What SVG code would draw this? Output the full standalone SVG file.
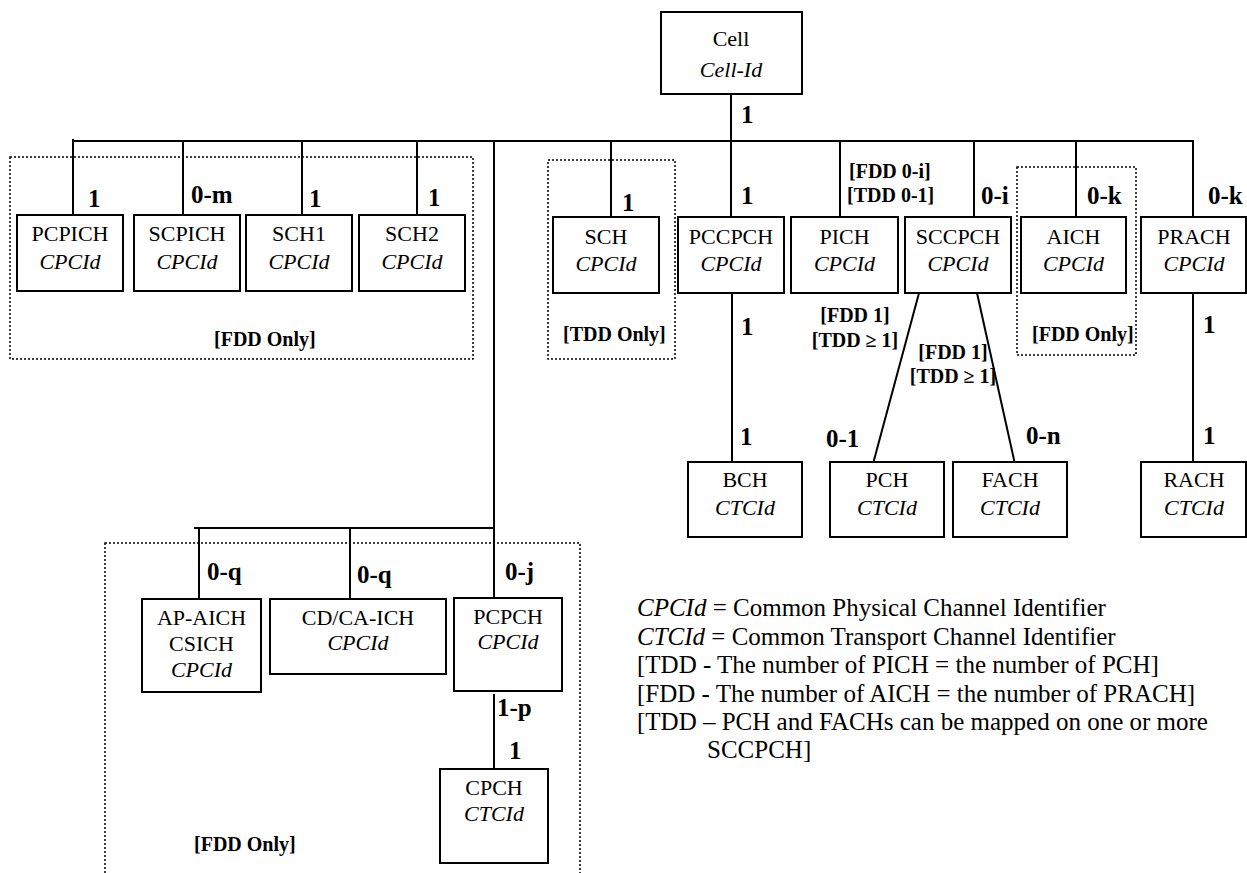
<svg xmlns="http://www.w3.org/2000/svg" width="1247" height="873" viewBox="0 0 1247 873">
<style>
  .box{fill:#fff;stroke:#000;stroke-width:2}
  .grp{fill:none;stroke:#000;stroke-width:1.5;stroke-dasharray:2,2}
  .ln{stroke:#000;stroke-width:2;fill:none}
  .t{font-family:"Liberation Serif","Times New Roman",serif;font-size:22px;text-anchor:middle;fill:#000}
  .i{font-style:italic}
  .c{font-family:"Liberation Serif","Times New Roman",serif;font-size:25px;font-weight:bold;fill:#000}
  .b{font-family:"Liberation Serif","Times New Roman",serif;font-size:20px;font-weight:bold;fill:#000}
  .lg{font-family:"Liberation Serif","Times New Roman",serif;font-size:25px;fill:#000}
</style>
<rect width="1247" height="873" fill="#fff"/>

<g id="groups">
  <rect class="grp" x="10" y="157" width="463" height="202"/>
  <text class="b" x="214" y="346">[FDD Only]</text>
  <rect class="grp" x="548" y="160" width="127" height="199"/>
  <text class="b" x="563" y="341">[TDD Only]</text>
  <rect class="grp" x="1017" y="167" width="119" height="188"/>
  <text class="b" x="1032" y="341">[FDD Only]</text>
  <rect class="grp" x="105" y="543" width="475" height="340"/>
  <text class="b" x="194" y="851">[FDD Only]</text>
</g>

<g id="connectors">
  <line class="ln" x1="731" y1="94" x2="731" y2="217"/>
  <line class="ln" x1="73" y1="141" x2="1194" y2="141"/>
  <line class="ln" x1="73" y1="139" x2="73" y2="215"/>
  <line class="ln" x1="183" y1="141" x2="183" y2="215"/>
  <line class="ln" x1="302" y1="141" x2="302" y2="215"/>
  <line class="ln" x1="417" y1="141" x2="417" y2="215"/>
  <line class="ln" x1="494" y1="141" x2="494" y2="598"/>
  <line class="ln" x1="611" y1="141" x2="611" y2="217"/>
  <line class="ln" x1="840" y1="141" x2="840" y2="217"/>
  <line class="ln" x1="974" y1="141" x2="974" y2="217"/>
  <line class="ln" x1="1076" y1="141" x2="1076" y2="217"/>
  <line class="ln" x1="1193" y1="141" x2="1193" y2="217"/>
  <line class="ln" x1="732" y1="293" x2="732" y2="462"/>
  <line class="ln" x1="919" y1="293" x2="873.5" y2="462"/>
  <line class="ln" x1="977" y1="293" x2="1014.5" y2="462"/>
  <line class="ln" x1="1193" y1="293" x2="1193" y2="462"/>
  <line class="ln" x1="194" y1="528" x2="494" y2="528"/>
  <line class="ln" x1="199" y1="528" x2="199" y2="599"/>
  <line class="ln" x1="350" y1="528" x2="350" y2="599"/>
  <line class="ln" x1="494" y1="694" x2="494" y2="769"/>
</g>

<g id="labels">
  <text class="c" x="741" y="123">1</text>
  <text class="c" x="88" y="207">1</text>
  <text class="c" x="191" y="203">0-m</text>
  <text class="c" x="309" y="207">1</text>
  <text class="c" x="428" y="206">1</text>
  <text class="c" x="622" y="211">1</text>
  <text class="c" x="741" y="204">1</text>
  <text class="b" x="849" y="178">[FDD 0-i]</text>
  <text class="b" x="847" y="202">[TDD 0-1]</text>
  <text class="c" x="981" y="204">0-i</text>
  <text class="c" x="1087" y="204">0-k</text>
  <text class="c" x="1208" y="204">0-k</text>
  <text class="c" x="741" y="335">1</text>
  <text class="b" x="855" y="322" text-anchor="middle">[FDD 1]</text>
  <text class="b" x="855" y="347" text-anchor="middle">[TDD ≥ 1]</text>
  <text class="b" x="953" y="359" text-anchor="middle">[FDD 1]</text>
  <text class="b" x="953" y="383" text-anchor="middle">[TDD ≥ 1]</text>
  <text class="c" x="1203" y="333">1</text>
  <text class="c" x="740" y="445">1</text>
  <text class="c" x="826" y="447">0-1</text>
  <text class="c" x="1026" y="444">0-n</text>
  <text class="c" x="1203" y="444">1</text>
  <text class="c" x="207" y="580">0-q</text>
  <text class="c" x="357" y="583">0-q</text>
  <text class="c" x="505" y="580">0-j</text>
  <text class="c" x="497" y="716">1-p</text>
  <text class="c" x="509" y="759">1</text>
</g>

<g id="cell"><rect class="box" x="661" y="12" width="141" height="82"/><text class="t" x="731" y="46">Cell</text><text class="t i" x="731" y="77">Cell-Id</text></g>

<g id="pcpich"><rect class="box" x="17" y="215" width="106" height="76"/><text class="t" x="70" y="241">PCPICH</text><text class="t i" x="70" y="269">CPCId</text></g>
<g id="scpich"><rect class="box" x="134" y="215" width="106" height="76"/><text class="t" x="187" y="241">SCPICH</text><text class="t i" x="187" y="269">CPCId</text></g>
<g id="sch1"><rect class="box" x="246" y="215" width="106" height="76"/><text class="t" x="299" y="241">SCH1</text><text class="t i" x="299" y="269">CPCId</text></g>
<g id="sch2"><rect class="box" x="359" y="215" width="106" height="76"/><text class="t" x="412" y="241">SCH2</text><text class="t i" x="412" y="269">CPCId</text></g>

<g id="sch"><rect class="box" x="553" y="217" width="106" height="76"/><text class="t" x="606" y="244">SCH</text><text class="t i" x="606" y="271">CPCId</text></g>
<g id="pccpch"><rect class="box" x="678" y="217" width="106" height="76"/><text class="t" x="731" y="244">PCCPCH</text><text class="t i" x="731" y="271">CPCId</text></g>
<g id="pich"><rect class="box" x="791" y="217" width="107" height="76"/><text class="t" x="844.5" y="244">PICH</text><text class="t i" x="844.5" y="271">CPCId</text></g>
<g id="sccpch"><rect class="box" x="905" y="217" width="106" height="76"/><text class="t" x="958" y="244">SCCPCH</text><text class="t i" x="958" y="271">CPCId</text></g>
<g id="aich"><rect class="box" x="1021" y="217" width="105" height="76"/><text class="t" x="1073.5" y="244">AICH</text><text class="t i" x="1073.5" y="271">CPCId</text></g>
<g id="prach"><rect class="box" x="1141" y="217" width="105" height="76"/><text class="t" x="1194" y="244">PRACH</text><text class="t i" x="1194" y="271">CPCId</text></g>

<g id="bch"><rect class="box" x="688" y="462" width="114" height="75"/><text class="t" x="745" y="487">BCH</text><text class="t i" x="745" y="515">CTCId</text></g>
<g id="pch"><rect class="box" x="830" y="462" width="114" height="75"/><text class="t" x="887" y="487">PCH</text><text class="t i" x="887" y="515">CTCId</text></g>
<g id="fach"><rect class="box" x="953" y="462" width="114" height="75"/><text class="t" x="1010" y="487">FACH</text><text class="t i" x="1010" y="515">CTCId</text></g>
<g id="rach"><rect class="box" x="1141" y="462" width="105" height="75"/><text class="t" x="1194" y="487">RACH</text><text class="t i" x="1194" y="515">CTCId</text></g>

<g id="apaich"><rect class="box" x="142" y="599" width="119" height="93"/><text class="t" x="201.5" y="625">AP-AICH</text><text class="t" x="201.5" y="651">CSICH</text><text class="t i" x="201.5" y="677">CPCId</text></g>
<g id="cdcaich"><rect class="box" x="270" y="599" width="176" height="75"/><text class="t" x="358" y="625">CD/CA-ICH</text><text class="t i" x="358" y="650">CPCId</text></g>
<g id="pcpch"><rect class="box" x="454" y="598" width="108" height="93"/><text class="t" x="508" y="624">PCPCH</text><text class="t i" x="508" y="649">CPCId</text></g>
<g id="cpch"><rect class="box" x="440" y="769" width="108" height="94"/><text class="t" x="494" y="795">CPCH</text><text class="t i" x="494" y="821">CTCId</text></g>

<g id="legend">
  <text class="lg" x="637" y="616"><tspan font-style="italic">CPCId</tspan> = Common Physical Channel Identifier</text>
  <text class="lg" x="637" y="645"><tspan font-style="italic">CTCId</tspan> = Common Transport Channel Identifier</text>
  <text class="lg" x="637" y="673">[TDD - The number of PICH = the number of PCH]</text>
  <text class="lg" x="637" y="702">[FDD - The number of AICH = the number of PRACH]</text>
  <text class="lg" x="637" y="730">[TDD – PCH and FACHs can be mapped on one or more</text>
  <text class="lg" x="707" y="758">SCCPCH]</text>
</g>
</svg>
